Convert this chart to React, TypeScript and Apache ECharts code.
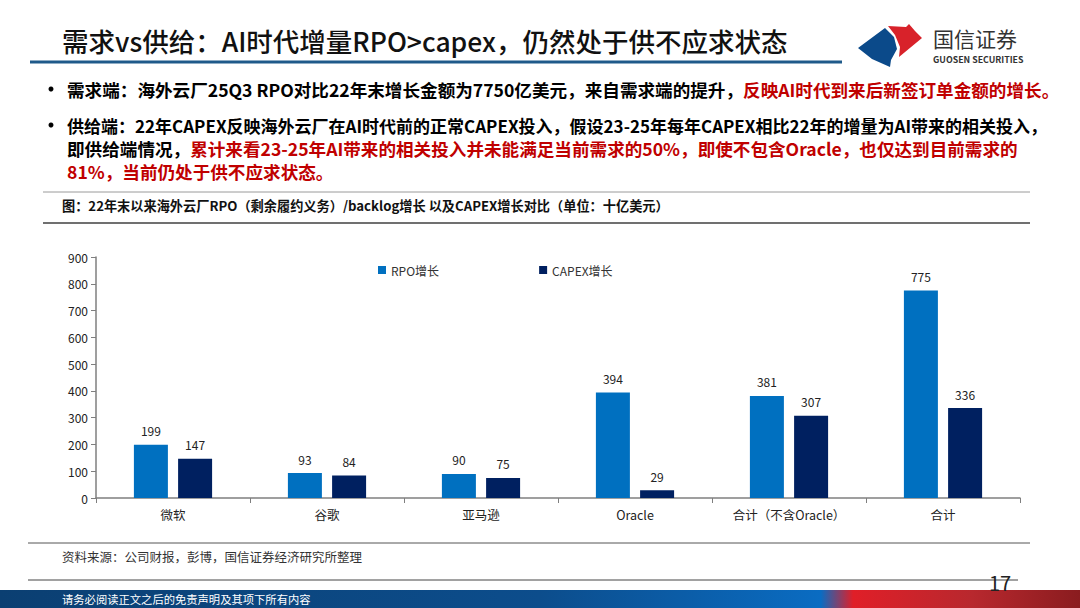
import React, { useEffect, useRef } from "react";
import * as echarts from "echarts";

const categories = ["微软", "谷歌", "亚马逊", "Oracle", "合计（不含Oracle）", "合计"];
const rpoGrowth = [199, 93, 90, 394, 381, 775];
const capexGrowth = [147, 84, 75, 29, 307, 336];
const seriesNames = ["RPO增长", "CAPEX增长"];
const yTicks = { min: 0, max: 900, interval: 100 };

const FONT = '"Noto Sans CJK SC", "Noto Sans", sans-serif';
const RED = "#c00000";
const BODY = 17.6;

export default function App() {
  const ref = useRef<HTMLDivElement>(null);
  useEffect(() => {
    if (!ref.current) return;
    const chart = echarts.init(ref.current, undefined, { renderer: "svg" });
    const txt = (x: number, y: number, text: string, style: any = {}, extra: any = {}) => ({
      type: "text",
      x,
      y,
      ...extra,
      style: { text, fontFamily: FONT, fill: "#000", textVerticalAlign: "middle", ...style },
    });
    const hline = (x1: number, x2: number, y: number, stroke: string, lineWidth: number) => ({
      type: "line",
      shape: { x1, y1: y, x2, y2: y },
      style: { stroke, lineWidth },
    });
    const rich = {
      b: { fill: "#000", fontSize: BODY, fontWeight: "bold", fontFamily: FONT },
      r: { fill: RED, fontSize: BODY, fontWeight: "bold", fontFamily: FONT },
    };
    chart.setOption({
      animation: false,
      backgroundColor: "#fff",
      textStyle: { fontFamily: FONT },
      color: ["#0070c0", "#002060"],
      grid: { left: 96, right: 60, top: 257, bottom: 110 },
      legend: {
        left: 373,
        top: 259,
        itemWidth: 8,
        itemHeight: 8,
        itemGap: 100,
        icon: "rect",
        textStyle: { fontSize: 12, color: "#333", fontFamily: FONT },
        data: seriesNames,
      },
      xAxis: {
        type: "category",
        data: categories,
        axisLine: { lineStyle: { color: "#7f7f7f", width: 1.5 } },
        axisTick: { show: true, length: 5, lineStyle: { color: "#7f7f7f" } },
        axisLabel: { fontSize: 12.5, color: "#222", margin: 10, fontFamily: FONT },
      },
      yAxis: {
        type: "value",
        min: yTicks.min,
        max: yTicks.max,
        interval: yTicks.interval,
        splitLine: { show: false },
        axisLine: { show: true, lineStyle: { color: "#7f7f7f", width: 1.5 } },
        axisTick: { show: true, length: 5, lineStyle: { color: "#7f7f7f" } },
        axisLabel: { fontSize: 12, color: "#222", margin: 8, fontFamily: FONT },
      },
      series: [
        {
          name: seriesNames[0],
          type: "bar",
          data: rpoGrowth,
          barWidth: 34,
          barGap: "30%",
          label: { show: true, position: "top", distance: 8, fontSize: 12, color: "#222" },
        },
        {
          name: seriesNames[1],
          type: "bar",
          data: capexGrowth,
          barWidth: 34,
          barGap: "30%",
          label: { show: true, position: "top", distance: 8, fontSize: 12, color: "#222" },
        },
      ],
      graphic: [
        // title
        txt(62, 40, "需求vs供给：AI时代增量RPO>capex，仍然处于供不应求状态", { fontSize: 26.5, fontWeight: 500, fill: "#111" }),
        hline(30, 842, 62, "#1f5a8a", 3),
        // logo
        {
          type: "polygon",
          shape: { points: [[858, 48], [885, 28], [894, 37], [897, 49], [891, 60], [890, 67], [872, 59]] },
          style: { fill: "#0b4a8a" },
        },
        {
          type: "polygon",
          shape: { points: [[888, 26], [906, 27], [909, 24], [915, 31], [922, 38], [899, 57], [900, 47], [895, 35]] },
          style: { fill: "#d8222a" },
        },
        txt(933, 38, "国信证券", { fontSize: 21, fill: "#333" }),
        txt(933, 59, "GUOSEN SECURITIES", { fontSize: 8.8, fontWeight: "bold", fill: "#333" }),
        // bullets
        { type: "circle", shape: { cx: 51, cy: 89, r: 2.5 }, style: { fill: "#000" } },
        { type: "circle", shape: { cx: 51, cy: 125, r: 2.5 }, style: { fill: "#000" } },
        {
          type: "text",
          x: 67,
          y: 89,
          style: {
            text: "{b|需求端：海外云厂25Q3 RPO对比22年末增长金额为7750亿美元，来自需求端的提升，}{r|反映AI时代到来后新签订单金额的增长。}",
            fontFamily: FONT,
            fontSize: BODY,
            fontWeight: "bold",
            textVerticalAlign: "middle",
            rich,
          },
        },
        txt(67, 125, "供给端：22年CAPEX反映海外云厂在AI时代前的正常CAPEX投入，假设23-25年每年CAPEX相比22年的增量为AI带来的相关投入，", { fontSize: 17, fontWeight: "bold" }),
        {
          type: "text",
          x: 67,
          y: 148,
          style: {
            text: "{b|即供给端情况，}{r|累计来看23-25年AI带来的相关投入并未能满足当前需求的50%，即使不包含Oracle，也仅达到目前需求的}",
            fontFamily: FONT,
            fontSize: BODY,
            fontWeight: "bold",
            textVerticalAlign: "middle",
            rich,
          },
        },
        txt(67, 171, "81%，当前仍处于供不应求状态。", { fontSize: BODY, fontWeight: "bold", fill: RED }),
        // caption
        hline(43, 1030, 192, "#9a9a9a", 1),
        txt(62, 205, "图：22年末以来海外云厂RPO（剩余履约义务）/backlog增长 以及CAPEX增长对比（单位：十亿美元）", { fontSize: 13.2, fontWeight: "bold", fill: "#111" }),
        hline(43, 1030, 223, "#707070", 2),
        // source
        hline(28, 1030, 543, "#555", 1),
        txt(62, 556, "资料来源：公司财报，彭博，国信证券经济研究所整理", { fontSize: 12.5, fill: "#333" }),
        hline(28, 1018, 580, "#444", 1),
        // footer band
        {
          type: "rect",
          shape: { x: 0, y: 590, width: 1080, height: 18 },
          style: {
            fill: new echarts.graphic.LinearGradient(0, 0, 1, 0, [
              { offset: 0, color: "#0b3f72" },
              { offset: 0.5, color: "#0c4d8c" },
              { offset: 0.76, color: "#0a6cc2" },
              { offset: 0.79, color: "#e01f28" },
              { offset: 0.9, color: "#b8282e" },
              { offset: 1, color: "#8a1c1f" },
            ]),
          },
        },
        txt(62, 599, "请务必阅读正文之后的免责声明及其项下所有内容", { fontSize: 11.3, fill: "#fff" }),
        txt(1000, 582, "17", { fontSize: 20, fill: "#222", textAlign: "center" }),
      ],
    });
    return () => chart.dispose();
  }, []);
  return (
    <div
      ref={ref}
      style={{ position: "fixed", left: 0, top: 0, width: 1080, height: 608, background: "#fff" }}
    />
  );
}
